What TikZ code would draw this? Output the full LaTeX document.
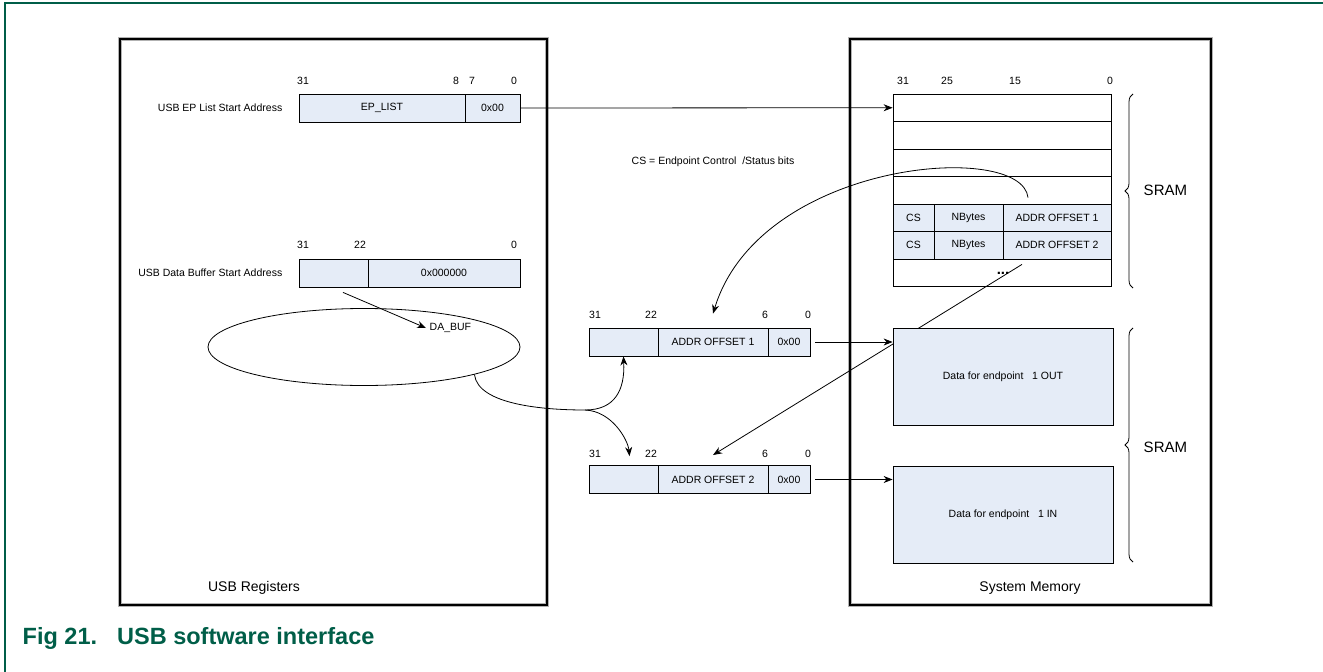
\documentclass[tikz,border=0pt]{standalone}
\usepackage{fontspec}
\setmainfont{Liberation Sans}
\usetikzlibrary{arrows.meta,shapes.geometric,decorations.pathreplacing}

\definecolor{cellfill}{RGB}{229,236,247}
\definecolor{nxpgreen}{RGB}{0,94,72}
\newcommand{\lbl}{\fontsize{10.5}{12}\selectfont}

\tikzset{
	cell/.style={draw, fill=cellfill, minimum height=28pt, inner sep=0pt, font=\lbl},
	slot/.style={draw, fill=white, minimum width=218pt, minimum height=27.5pt, inner sep=0pt},
	databox/.style={draw, fill=cellfill, minimum width=220pt, minimum height=97pt, font=\lbl},
	memframe/.style={draw, line width=2pt, preaction={draw=black!30, line width=3.6pt}},
	bit/.style={font=\lbl, inner sep=0pt},
	regname/.style={anchor=east, font=\lbl},
	sram/.style={anchor=west, font=\fontsize{15}{18}\selectfont}
}

\begin{document}
\begin{tikzpicture}[x=1pt, y=-1pt, line width=0.8pt, >={Stealth[length=9pt,width=7pt]}]
	\useasboundingbox (0,0) rectangle (1323,672);
	\draw [nxpgreen, line width=1.3pt] (5,672) -- (5,3) -- (1323,3);
	\node [anchor=west, text=nxpgreen, font=\fontsize{23.5}{28}\selectfont\bfseries] (caption) at (19,638) {Fig 21.\hspace{20pt}USB software interface};

	\node [memframe, minimum width=427pt, minimum height=566pt] (usbregs) at (333.5,322) {};
	\node [memframe, minimum width=361pt, minimum height=566pt] (sysmem) at (1030.5,322) {};
	\node [font=\fontsize{14}{17}\selectfont] (usbregslbl) at (254,588) {USB Registers};
	\node [font=\fontsize{14}{17}\selectfont] (sysmemlbl) at (1030,588) {System Memory};

	\node [regname] (reg1name) at (286,108) {USB EP List Start Address};
	\node [cell, minimum width=166pt] (reg1hi) at (382,108) {EP\_LIST};
	\node [cell, minimum width=55pt] (reg1lo) at (492.5,108) {0x00};
	\node [bit] (r1b31) at (303,81) {31};
	\node [bit] (r1b8) at (456,81) {8};
	\node [bit] (r1b7) at (472,81) {7};
	\node [bit] (r1b0) at (514,81) {0};

	\node [regname] (reg2name) at (286,273) {USB Data Buffer Start Address};
	\node [cell, minimum width=69pt] (reg2hi) at (333.5,273) {};
	\node [cell, minimum width=152pt] (reg2lo) at (444,273) {0x000000};
	\node [bit] (r2b31) at (303,245) {31};
	\node [bit] (r2b22) at (360,245) {22};
	\node [bit] (r2b0) at (514,245) {0};

	\node [draw, ellipse, minimum width=312pt, minimum height=77pt] (buf) at (364,347) {};
	\node [anchor=west, font=\lbl] (dabuf) at (426,328) {DA\_BUF};
	\draw [->] ([xshift=9.5pt,yshift=-5pt]reg2hi.south) -- (dabuf.west);

	\node [font=\lbl] (cslegend) at (713,162) {CS = Endpoint Control\ \ /Status bits};

	\foreach \i/\y in {0/107.75,1/135.25,2/162.75,3/190.25,6/272.75}
		\node [slot] (row\i) at (1002,\y) {};
	\node [cell, minimum width=41pt, minimum height=27.5pt] (cs1) at (913.5,217.75) {CS};
	\node [cell, minimum width=69pt, minimum height=27.5pt] (nb1) at (968.5,217.75) {NBytes};
	\node [cell, minimum width=108pt, minimum height=27.5pt] (addr1) at (1057,217.75) {ADDR OFFSET 1};
	\node [cell, minimum width=41pt, minimum height=27.5pt] (cs2) at (913.5,245.25) {CS};
	\node [cell, minimum width=69pt, minimum height=27.5pt] (nb2) at (968.5,245.25) {NBytes};
	\node [cell, minimum width=108pt, minimum height=27.5pt] (addr2) at (1057,245.25) {ADDR OFFSET 2};
	\node [font=\fontsize{15}{16}\selectfont\bfseries, inner sep=0pt] (more) at (1003,273) {...};
	\node [bit] (mb31) at (903,81) {31};
	\node [bit] (mb25) at (947,81) {25};
	\node [bit] (mb15) at (1015,81) {15};
	\node [bit] (mb0) at (1110,81) {0};

	\draw [->] ([xshift=-35pt,yshift=-5pt]addr2.south) -- (713,455) coordinate (off2tip);

	\node [databox] (data1) at (1003,376.5) {Data for endpoint\ \ \ 1 OUT};
	\node [databox] (data2) at (1003,514.5) {Data for endpoint\ \ \ 1 IN};

	\node [cell, minimum width=69pt] (off1a) at (623.5,342) {};
	\node [cell, minimum width=110pt] (off1b) at (713,342) {ADDR OFFSET 1};
	\node [cell, minimum width=42pt] (off1c) at (789,342) {0x00};
	\node [bit] (o1b31) at (595,315) {31};
	\node [bit] (o1b22) at (651,315) {22};
	\node [bit] (o1b6) at (765,315) {6};
	\node [bit] (o1b0) at (808,315) {0};

	\node [cell, minimum width=69pt] (off2a) at (623.5,479.5) {};
	\node [cell, minimum width=110pt] (off2b) at (713,479.5) {ADDR OFFSET 2};
	\node [cell, minimum width=42pt] (off2c) at (789,479.5) {0x00};
	\node [bit] (o2b31) at (595,454) {31};
	\node [bit] (o2b22) at (651,454) {22};
	\node [bit] (o2b6) at (765,454) {6};
	\node [bit] (o2b0) at (808,454) {0};

	\draw [->] (reg1lo.east) -- (row0.west);
	\draw [->] ([xshift=5pt]off1c.east) -- (off1c.east -| data1.west);
	\draw [->] ([xshift=5pt]off2c.east) -- (off2c.east -| data2.west);

	\draw [->] ([xshift=-29pt,yshift=6pt]addr1.north) .. controls (1022,140) and (760,160) .. ([yshift=14pt]off1b.north);

	\coordinate (split) at (585,410);
	\draw [->] (buf.-14) .. controls (478,405) and (545,410) .. (split) .. controls (615,410) and (625,390) .. (off1a.south);
	\draw [->] (split) .. controls (612,411) and (628,440) .. ([xshift=6pt,yshift=9pt]off2a.north);

	\draw [decorate, decoration={brace, amplitude=8pt}] (1133,288) -- (1133,94);
	\draw [decorate, decoration={brace, amplitude=8pt}] (1133,562) -- (1133,328);
	\node [sram] (sram1) at (1140,190) {SRAM};
	\node [sram] (sram2) at (1140,447) {SRAM};
\end{tikzpicture}
\end{document}
